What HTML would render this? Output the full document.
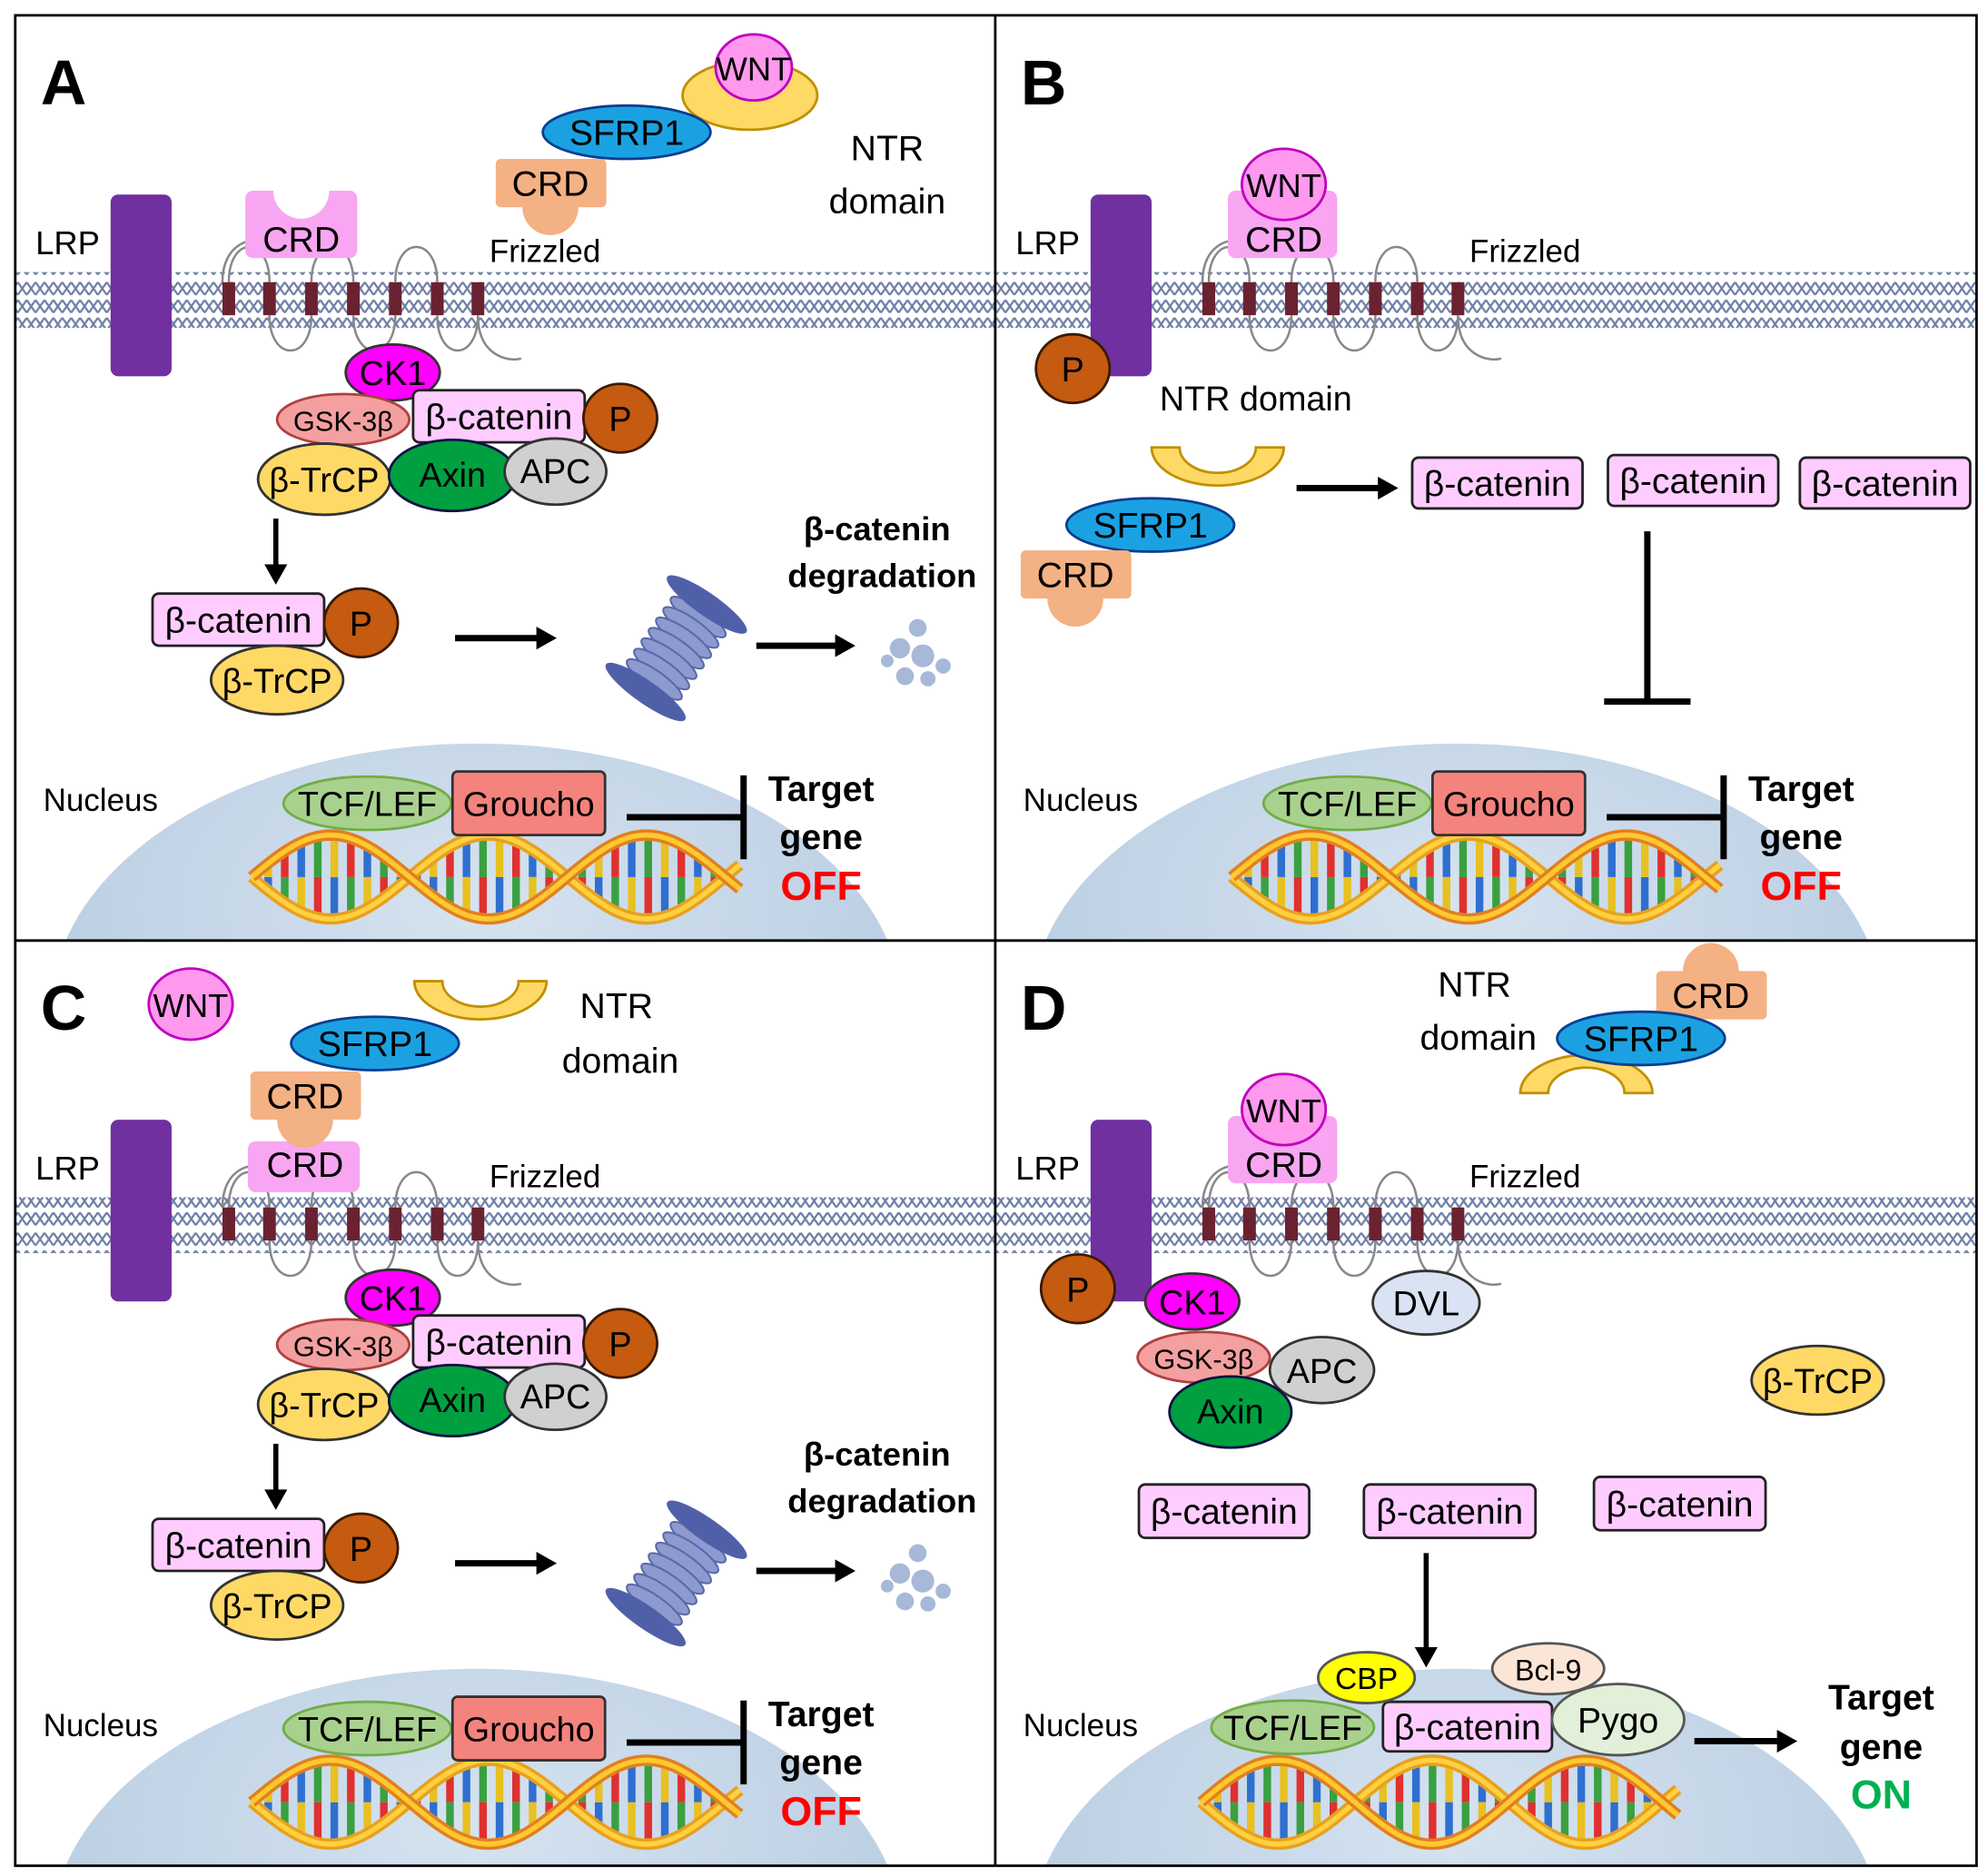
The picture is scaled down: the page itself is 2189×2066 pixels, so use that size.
<!DOCTYPE html>
<html><head><meta charset="utf-8">
<style>
html,body{margin:0;padding:0;background:#fff;width:2189px;height:2066px;overflow:hidden;}
svg{display:block;}
text{font-family:"Liberation Sans",sans-serif;}
</style></head>
<body>
<svg id="s" xmlns="http://www.w3.org/2000/svg" width="2189" height="2066" viewBox="0 0 1564 1476">
<defs>
<pattern id="mem" width="7" height="44" patternUnits="userSpaceOnUse">
<rect width="7" height="44" fill="#fff"/>
<path d="M0,2 L7,12 M0,12 L7,2 M0,16 L7,26 M0,26 L7,16 M0,30 L7,40 M0,40 L7,30" stroke="#6e7fa6" stroke-width="1.6"/>
</pattern>
<radialGradient id="nuc" cx="0.5" cy="0.3" r="0.7">
<stop offset="0" stop-color="#d6e3f0"/><stop offset="1" stop-color="#b2c8de"/>
</radialGradient>
<clipPath id="cA"><rect x="12" y="12" width="771" height="728"/></clipPath>
<clipPath id="cB"><rect x="783" y="12" width="772" height="728"/></clipPath>
<clipPath id="cC"><rect x="12" y="740" width="771" height="728"/></clipPath>
<clipPath id="cD"><rect x="783" y="740" width="772" height="728"/></clipPath>
</defs>
<rect width="1564" height="1476" fill="#fff"/>
<g id="root"></g>
</svg>
<script>
const root=document.getElementById('root');
let H='';
function t(x,y,s,txt,opt){opt=opt||{};H+=`<text x="${x}" y="${y}" font-size="${s}" text-anchor="${opt.a||'middle'}" fill="${opt.f||'#000'}" font-weight="${opt.b?'bold':'normal'}">${txt}</text>`;}
function el(cx,cy,rx,ry,f,s){H+=`<ellipse cx="${cx}" cy="${cy}" rx="${rx}" ry="${ry}" fill="${f}" stroke="${s||'#333'}" stroke-width="2"/>`;}
function bc(x,y,w,h){w=w||135;h=h||41;H+=`<rect x="${x}" y="${y}" width="${w}" height="${h}" rx="5" fill="#ffccff" stroke="#222" stroke-width="2"/>`;t(x+w/2,y+h/2+10,28,'β-catenin');}
function P(cx,cy){el(cx,cy,29,27,'#c55a11','#3a1a00');t(cx,cy+10,27,'P');}
function arrowH(x1,x2,y){H+=`<line x1="${x1}" y1="${y}" x2="${x2-14}" y2="${y}" stroke="#000" stroke-width="5"/><polygon points="${x2},${y} ${x2-16},${y-9} ${x2-16},${y+9}" fill="#000"/>`;}
function arrowV(x,y1,y2){H+=`<line x1="${x}" y1="${y1}" x2="${x}" y2="${y2-14}" stroke="#000" stroke-width="4"/><polygon points="${x},${y2} ${x-9},${y2-16} ${x+9},${y2-16}" fill="#000"/>`;}
function panel(ox,oy,clip){
 H+=`<g clip-path="url(#${clip})"><ellipse cx="${ox+375}" cy="${oy+795}" rx="335" ry="210" fill="url(#nuc)"/></g>`;
 H+=`<rect x="${ox+12}" y="${oy+214}" width="771" height="44" fill="url(#mem)"/>`;
 let xs=[175,207,240,273,306,339,371];
 let d='';
 for(let i=0;i<xs.length-1;i++){
  let a=ox+xs[i]+5,b=ox+xs[i+1]+5;
  if(i%2==0) d+=`M${a},${oy+222} C${a},${oy+185} ${b},${oy+185} ${b},${oy+222} `;
  else d+=`M${a},${oy+248} C${a},${oy+285} ${b},${oy+285} ${b},${oy+248} `;
 }
 d+=`M${ox+175},${oy+222} C${ox+175},${oy+190} ${ox+200},${oy+188} ${ox+200},${oy+190} `;
 d+=`M${ox+376},${oy+248} C${ox+376},${oy+280} ${ox+400},${oy+285} ${ox+410},${oy+282} `;
 H+=`<path d="${d}" fill="none" stroke="#888" stroke-width="1.8"/>`;
 xs.forEach(x=>{H+=`<rect x="${ox+x}" y="${oy+222}" width="10" height="26" fill="#6b2230"/>`;});
 H+=`<rect x="${ox+87}" y="${oy+153}" width="48" height="143" rx="6" fill="#7030a0"/>`;
 t(ox+28,oy+200,26,'LRP',{a:'start'});
 t(ox+385,oy+206,25,'Frizzled',{a:'start'});
 t(ox+34,oy+638,25,'Nucleus',{a:'start'});
}
function helix(ox,oy,w){
 let amp=33,per=w/1.55,n=Math.floor(w/13),cols=['#e03030','#2f6fd0','#3aa040','#e8c020'];
 for(let i=1;i<n;i++){
  let x=ox+i*13,ph=2*Math.PI*(i*13)/per;
  let y1=oy+amp*Math.sin(ph),y2=oy-amp*Math.sin(ph);
  let ym=(y1+y2)/2;
  H+=`<line x1="${x}" y1="${y1}" x2="${x}" y2="${ym}" stroke="${cols[i%4]}" stroke-width="6"/>`;
  H+=`<line x1="${x}" y1="${ym}" x2="${x}" y2="${y2}" stroke="${cols[(i+2)%4]}" stroke-width="6"/>`;
 }
 let p1='',p2='';
 for(let x=0;x<=w;x+=3){let ph=2*Math.PI*x/per;p1+=(x?'L':'M')+(ox+x)+','+(oy+amp*Math.sin(ph))+' ';p2+=(x?'L':'M')+(ox+x)+','+(oy-amp*Math.sin(ph))+' ';}
 H+=`<path d="${p1}" fill="none" stroke="#e8a020" stroke-width="9"/><path d="${p1}" fill="none" stroke="#ffd040" stroke-width="4"/>`;
 H+=`<path d="${p2}" fill="none" stroke="#e08020" stroke-width="9"/><path d="${p2}" fill="none" stroke="#ffc830" stroke-width="4"/>`;
}
function offNucleus(ox,oy){
 helix(ox+198,oy+690,385);
 el(ox+289,oy+632,66,21,'#a9d18e','#70ad47');t(ox+289,oy+642,27,'TCF/LEF');
 H+=`<rect x="${ox+356}" y="${oy+607}" width="120" height="50" rx="4" fill="#f4837d" stroke="#333" stroke-width="2"/>`;t(ox+416,oy+642,27,'Groucho');
 H+=`<line x1="${ox+493}" y1="${oy+643}" x2="${ox+585}" y2="${oy+643}" stroke="#000" stroke-width="5"/><line x1="${ox+585}" y1="${oy+610}" x2="${ox+585}" y2="${oy+676}" stroke="#000" stroke-width="5"/>`;
 t(ox+646,oy+630,28,'Target',{b:1});t(ox+646,oy+668,28,'gene',{b:1});t(ox+646,oy+708,32,'OFF',{b:1,f:'#ff0000'});
}
function complex(ox,oy){
 el(ox+309,oy+293,37,22,'#ff00ff');t(ox+309,oy+303,27,'CK1');
 el(ox+270,oy+330,52,20,'#f4a0a0','#b04040');t(ox+270,oy+339,22,'GSK-3β');
 bc(ox+325,oy+307,135,41);
 P(ox+488,oy+329);
 el(ox+255,oy+377,52,28,'#ffd966','#333');t(ox+255,oy+387,27,'β-TrCP');
 el(ox+356,oy+374,50,28,'#00a040','#114');t(ox+356,oy+383,27,'Axin');
 el(ox+437,oy+371,40,26,'#d0d0d0','#333');t(ox+437,oy+380,27,'APC');
 arrowV(ox+217,oy+408,oy+460);
 bc(ox+120,oy+467,135,41);P(ox+284,oy+490);
 el(ox+218,oy+535,52,27,'#ffd966','#333');t(ox+218,oy+545,27,'β-TrCP');
 arrowH(ox+358,ox+438,oy+502);
 H+=`<g transform="translate(${ox+532},${oy+510}) rotate(35)">`;
 for(let i=-3;i<=3;i++){H+=`<ellipse cx="0" cy="${i*10}" rx="26" ry="7" fill="#8c9ad0" stroke="#5a68a8" stroke-width="1.5"/>`;}
 H+=`<ellipse cx="0" cy="-42" rx="38" ry="9" fill="#5060a8"/><ellipse cx="0" cy="42" rx="38" ry="9" fill="#5060a8"/></g>`;
 arrowH(ox+595,ox+673,oy+508);
 [[722,494,7],[708,510,8],[726,516,9],[742,524,6],[712,532,7],[730,534,6],[698,520,5]].forEach(c=>{H+=`<circle cx="${ox+c[0]}" cy="${oy+c[1]}" r="${c[2]}" fill="#a8b8d8"/>`;});
 t(ox+690,oy+425,26,'β-catenin',{b:1});t(ox+694,oy+462,26,'degradation',{b:1});
}
function wntCRD(ox,oy){
 H+=`<rect x="${ox+195}" y="${oy+150}" width="86" height="53" rx="6" fill="#f8a6f2"/>`;
 el(ox+239,oy+145,33,28,'#ff99ee','#c000c0');t(ox+239,oy+155,26,'WNT');
 t(ox+239,oy+198,28,'CRD');
}
function yellowCup(cx,cy,rot){H+=`<g transform="translate(${cx},${cy}) rotate(${rot})"><path d="M-52,-14 A52,30 0 0 0 52,-14 L30,-14 A30,20 0 0 1 -30,-14 Z" fill="#ffd966" stroke="#c09000" stroke-width="2"/></g>`;}
function sfrp(cx,cy){el(cx,cy,66,21,'#1ba1e2','#0b3d91');t(cx,cy+10,28,'SFRP1');}
function crdOrange(x,y,below){
 let cx=x+43;
 H+=`<circle cx="${cx}" cy="${below?y+38:y}" r="22" fill="#f4b183"/><rect x="${x}" y="${y}" width="87" height="38" rx="4" fill="#f4b183"/>`;
 t(cx,y+29,28,'CRD');
}
panel(0,0,'cA');panel(771,0,'cB');panel(0,728,'cC');panel(771,728,'cD');
// A
t(32,82,50,'A',{a:'start',b:1});
H+=`<rect x="193" y="150" width="88" height="53" rx="6" fill="#f8a6f2"/><circle cx="237" cy="150" r="22" fill="#fff"/>`;t(237,198,28,'CRD');
el(590,75,53,27,'#ffd966','#c09000');el(593,53,30,26,'#ff99ee','#c000c0');t(593,63,26,'WNT');
crdOrange(390,125,true);sfrp(493,104);
t(698,126,28,'NTR');t(698,168,28,'domain');
complex(0,0);offNucleus(0,0);
// B
t(803,82,50,'B',{a:'start',b:1});
wntCRD(771,0);
P(844,290);
t(988,323,27,'NTR domain');
yellowCup(958,366,0);
sfrp(905,413);crdOrange(803,433,true);
arrowH(1020,1100,384);
bc(1111,360,134,40);bc(1265,358,134,40);bc(1416,360,134,40);
H+=`<line x1="1296" y1="418" x2="1296" y2="552" stroke="#000" stroke-width="5"/><line x1="1262" y1="552" x2="1330" y2="552" stroke="#000" stroke-width="5"/>`;
offNucleus(771,0);
// C
t(32,810,50,'C',{a:'start',b:1});
H+=`<rect x="195" y="898" width="88" height="40" rx="6" fill="#f8a6f2"/>`;
crdOrange(197,843,true);t(240,926,28,'CRD');
el(150,790,33,28,'#ff99ee','#c000c0');t(150,800,26,'WNT');
yellowCup(378,786,0);
sfrp(295,821);
t(485,801,28,'NTR');t(488,844,28,'domain');
complex(0,728);offNucleus(0,728);
// D
t(803,810,50,'D',{a:'start',b:1});
wntCRD(771,728);
t(1160,784,28,'NTR');t(1163,826,28,'domain');
yellowCup(1248,846,180);
crdOrange(1303,764,false);
sfrp(1291,817);
P(848,1014);
el(1122,1025,42,25,'#dae3f3','#333');t(1122,1035,27,'DVL');
el(938,1024,37,22,'#ff00ff');t(938,1034,27,'CK1');
el(1040,1078,41,26,'#d0d0d0');t(1040,1088,27,'APC');
el(947,1068,52,20,'#f4a0a0','#b04040');t(947,1077,22,'GSK-3β');
el(968,1111,48,28,'#00a040','#114');t(968,1120,27,'Axin');
el(1430,1086,52,27,'#ffd966');t(1430,1096,27,'β-TrCP');
bc(896,1168,134,42);bc(1073,1168,135,42);bc(1254,1162,135,42);
arrowV(1122,1222,1312);
helix(945,1418,375);
el(1017,1359,64,21,'#a9d18e','#70ad47');t(1017,1369,27,'TCF/LEF');
bc(1088,1339,133,39);
el(1273,1353,52,28,'#e2f0d9','#555');t(1273,1363,28,'Pygo');
el(1075,1320,38,20,'#ffff00','#555');t(1075,1329,24,'CBP');
el(1218,1313,44,20,'#fbe5d6','#555');t(1218,1322,23,'Bcl-9');
arrowH(1333,1414,1370);
t(1480,1345,28,'Target',{b:1});t(1480,1384,28,'gene',{b:1});t(1480,1423,32,'ON',{b:1,f:'#00b050'});
H+=`<rect x="12" y="12" width="1543" height="1456" fill="none" stroke="#000" stroke-width="2"/><line x1="783" y1="12" x2="783" y2="1468" stroke="#000" stroke-width="2"/><line x1="12" y1="740" x2="1555" y2="740" stroke="#000" stroke-width="2"/>`;
root.innerHTML=H;
</script>
</body></html>
